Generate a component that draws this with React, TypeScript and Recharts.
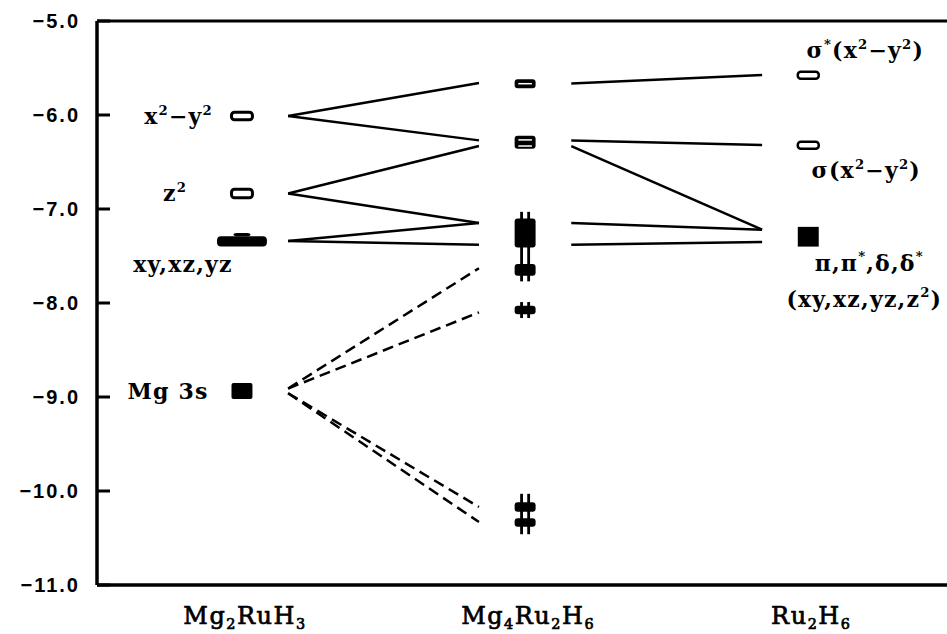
import React from "react";
import {
  LineChart,
  Line,
  XAxis,
  YAxis,
  ReferenceArea,
  ReferenceLine,
  ReferenceDot,
  Label,
} from "recharts";

// compounds along the x axis ("_" marks a subscript digit)
const categories = ["Mg_2RuH_3", "Mg_4Ru_2H_6", "Ru_2H_6"];
const categoryX = [0.5, 1.5, 2.5];
const yTicks = [-11, -10, -9, -8, -7, -6, -5];

// Mg2RuH3 levels (eV), [top, bottom] of each marker
const mg2ruh3Open = [
  [-5.97, -6.05],
  [-6.79, -6.88],
];
const mg2ruh3T2g = [[-7.29, -7.4]];
const mg2ruh3Bump = [[-7.255, -7.29]];
const mg2ruh3Mg3s = [[-8.85, -9.02]];

// Mg4Ru2H6 levels
const mg4ru2h6Blocks = [
  [-5.62, -5.715],
  [-6.22, -6.36],
  [-7.1, -7.41],
  [-7.585, -7.71],
  [-8.03, -8.12],
  [-10.12, -10.22],
  [-10.29, -10.38],
];
const mg4ru2h6Slits = [-5.667, -6.265, -6.33];
const mg4ru2h6Hash = [
  [-7.03, -7.77],
  [-7.99, -8.16],
  [-10.03, -10.46],
];

// Ru2H6 levels
const ru2h6Open = [
  [-5.54, -5.615],
  [-6.285, -6.36],
];
const ru2h6Block = [[-7.19, -7.4]];

// correlation lines [from, to]
const leftSolid = [
  [-6.01, -5.66],
  [-6.01, -6.27],
  [-6.835, -6.33],
  [-6.835, -7.15],
  [-7.34, -7.15],
  [-7.34, -7.38],
];
const leftDashed = [
  [-8.91, -7.63],
  [-8.91, -8.1],
  [-8.96, -10.17],
  [-8.96, -10.33],
];
const rightSolid = [
  [-5.665, -5.575],
  [-6.27, -6.32],
  [-6.33, -7.22],
  [-7.15, -7.22],
  [-7.38, -7.35],
];

const GAP = 0.163;
const HALF = 0.037;
const serif = "DejaVu Serif";

const richParts = (s: string) => {
  const out: { t: string; mode: string }[] = [];
  for (let i = 0; i < s.length; i++) {
    const c = s[i];
    if ((c === "^" || c === "_") && i + 1 < s.length) {
      out.push({ t: s[i + 1], mode: c === "^" ? "sup" : "sub" });
      i++;
    } else {
      const last = out[out.length - 1];
      if (last && last.mode === "n") last.t += c;
      else out.push({ t: c, mode: "n" });
    }
  }
  return out;
};

const RichText = ({ x, y, text, size, anchor = "middle", weight = "bold", spacing = 0, thick = 0 }: any) => {
  let shift = 0;
  return (
    <text
      x={x}
      y={y}
      textAnchor={anchor}
      fontFamily={serif}
      fontWeight={weight}
      fontSize={size}
      letterSpacing={spacing}
      fill="#000"
      stroke={thick ? "#000" : "none"}
      strokeWidth={thick}
    >
      {richParts(text).map((p, i) => {
        const target = p.mode === "sup" ? -0.42 * size : p.mode === "sub" ? 0.2 * size : 0;
        const dy = target - shift;
        shift = target;
        return (
          <tspan key={i} dy={dy} fontSize={p.mode === "n" ? size : size * 0.6}>
            {p.t}
          </tspan>
        );
      })}
    </text>
  );
};

const CategoryTick = (props: any) => {
  const { x, y, payload } = props;
  const idx = categoryX.indexOf(payload.value);
  return <RichText x={x + 3} y={y + 39} text={categories[idx]} size={24} weight="normal" spacing={1.5} thick={0.7} />;
};

const EnergyTick = (props: any) => {
  const { x, y, payload } = props;
  return (
    <g>
      <line x1={x} x2={x + 13} y1={y} y2={y} stroke="#000" strokeWidth={3} />
      <text
        x={x - 17}
        y={y + 7}
        textAnchor="end"
        fontFamily="Liberation Sans"
        fontWeight="bold"
        fontSize={20}
        letterSpacing={2}
        fill="#000"
      >
        {"\u2212" + Math.abs(payload.value).toFixed(1)}
      </text>
    </g>
  );
};

const roundRect = (r: number) => (p: any) =>
  <rect x={p.x} y={p.y} width={p.width} height={p.height} rx={r} fill={p.fill} stroke={p.stroke} strokeWidth={p.strokeWidth} />;

const seg = (x1: number, y1: number, x2: number, y2: number) => [
  { x: x1, y: y1 },
  { x: x2, y: y2 },
];

const textLabels = [
  { x: 0.5, y: -6.01, dx: -29, dy: 8, text: "x^2−y^2", anchor: "end" },
  { x: 0.5, y: -6.835, dx: -67, dy: 8, text: "z^2", anchor: "middle" },
  { x: 0.5, y: -7.34, dx: -59, dy: 31, text: "xy,xz,yz", anchor: "middle" },
  { x: 0.5, y: -8.935, dx: -74, dy: 8, text: "Mg 3s", anchor: "middle" },
  { x: 2.5, y: -5.575, dx: 57, dy: -17, text: "σ^*(x^2−y^2)", anchor: "middle" },
  { x: 2.5, y: -6.32, dx: 58, dy: 33, text: "σ(x^2−y^2)", anchor: "middle" },
  { x: 2.5, y: -7.295, dx: 61, dy: 34, text: "π,π^*,δ,δ^*", anchor: "middle" },
  { x: 2.5, y: -7.295, dx: 56, dy: 70, text: "(xy,xz,yz,z^2)", anchor: "middle" },
];

const App: React.FC = () => {
  const lineProps = {
    dataKey: "y",
    stroke: "#000",
    strokeWidth: 2.5,
    dot: false,
    activeDot: false,
    isAnimationActive: false,
    legendType: "none" as const,
  };

  return (
    <div style={{ position: "absolute", left: 0, top: 0, background: "#fff" }}>
      <LineChart width={947} height={634} margin={{ top: 21, right: 0, bottom: 0, left: 0 }}>
        <XAxis
          type="number"
          dataKey="x"
          domain={[-0.012, 2.99]}
          ticks={categoryX}
          tick={<CategoryTick />}
          tickLine={false}
          tickSize={0}
          tickMargin={0}
          height={49}
          axisLine={{ stroke: "#000", strokeWidth: 3.5 }}
          allowDataOverflow
        />
        <YAxis
          type="number"
          domain={[-11, -5]}
          ticks={yTicks}
          tick={<EnergyTick />}
          tickLine={false}
          tickSize={0}
          tickMargin={0}
          width={97}
          axisLine={{ stroke: "#000", strokeWidth: 3.5 }}
          allowDataOverflow
        />
        <ReferenceLine y={-5} stroke="#000" strokeWidth={3} />

        {/* Mg2RuH3 markers */}
        {mg2ruh3Open.map(([a, b], i) => (
          <ReferenceArea key={"o1" + i} x1={0.5 - HALF} x2={0.5 + HALF} y1={a} y2={b}
            fill="#fff" fillOpacity={1} stroke="#000" strokeWidth={3} shape={roundRect(3)} />
        ))}
        {mg2ruh3T2g.map(([a, b], i) => (
          <ReferenceArea key={"t" + i} x1={0.5 - 0.088} x2={0.5 + 0.088} y1={a} y2={b}
            fill="#000" fillOpacity={1} shape={roundRect(4)} />
        ))}
        {mg2ruh3Bump.map(([a, b], i) => (
          <ReferenceArea key={"bu" + i} x1={0.5 - 0.03} x2={0.5 + 0.03} y1={a} y2={b}
            fill="#000" fillOpacity={1} shape={roundRect(3)} />
        ))}
        {mg2ruh3Mg3s.map(([a, b], i) => (
          <ReferenceArea key={"m" + i} x1={0.5 - HALF} x2={0.5 + HALF} y1={a} y2={b}
            fill="#000" fillOpacity={1} shape={roundRect(2)} />
        ))}

        {/* Mg4Ru2H6 markers */}
        {mg4ru2h6Blocks.map(([a, b], i) => (
          <ReferenceArea key={"b2" + i} x1={1.5 - HALF} x2={1.5 + HALF} y1={a} y2={b}
            fill="#000" fillOpacity={1} shape={roundRect(3)} />
        ))}
        {mg4ru2h6Slits.map((v, i) => (
          <ReferenceArea key={"s2" + i} x1={1.5 - 0.024} x2={1.5 + 0.024} y1={v + 0.008} y2={v - 0.008}
            fill="#fff" fillOpacity={1} />
        ))}
        {mg4ru2h6Hash.map(([a, b], i) =>
          [-0.0125, 0.0125].map((off, j) => (
            <ReferenceArea key={"h" + i + "-" + j} x1={1.5 + off - 0.005} x2={1.5 + off + 0.005} y1={a} y2={b}
              fill="#000" fillOpacity={1} />
          ))
        )}

        {/* Ru2H6 markers */}
        {ru2h6Open.map(([a, b], i) => (
          <ReferenceArea key={"o3" + i} x1={2.5 - HALF} x2={2.5 + HALF} y1={a} y2={b}
            fill="#fff" fillOpacity={1} stroke="#000" strokeWidth={2.5} shape={roundRect(3)} />
        ))}
        {ru2h6Block.map(([a, b], i) => (
          <ReferenceArea key={"b3" + i} x1={2.5 - HALF} x2={2.5 + HALF} y1={a} y2={b}
            fill="#000" fillOpacity={1} />
        ))}

        {/* correlation lines */}
        {leftSolid.map(([a, b], i) => (
          <Line key={"ls" + i} {...lineProps} data={seg(0.5 + GAP, a, 1.5 - GAP, b)} />
        ))}
        {leftDashed.map(([a, b], i) => (
          <Line key={"ld" + i} {...lineProps} strokeDasharray="11 6" data={seg(0.5 + GAP, a, 1.5 - GAP, b)} />
        ))}
        {rightSolid.map(([a, b], i) => (
          <Line key={"rs" + i} {...lineProps} data={seg(1.5 + GAP, a, 2.5 - GAP, b)} />
        ))}

        {/* orbital labels */}
        {textLabels.map((l, i) => (
          <ReferenceDot key={"lab" + i} x={l.x} y={l.y} r={0} fill="none" stroke="none">
            <Label
              content={(p: any) => (
                <RichText x={p.viewBox.x + l.dx} y={p.viewBox.y + l.dy} text={l.text} size={22} anchor={l.anchor} spacing={1.2} />
              )}
            />
          </ReferenceDot>
        ))}
      </LineChart>
    </div>
  );
};

export default App;
